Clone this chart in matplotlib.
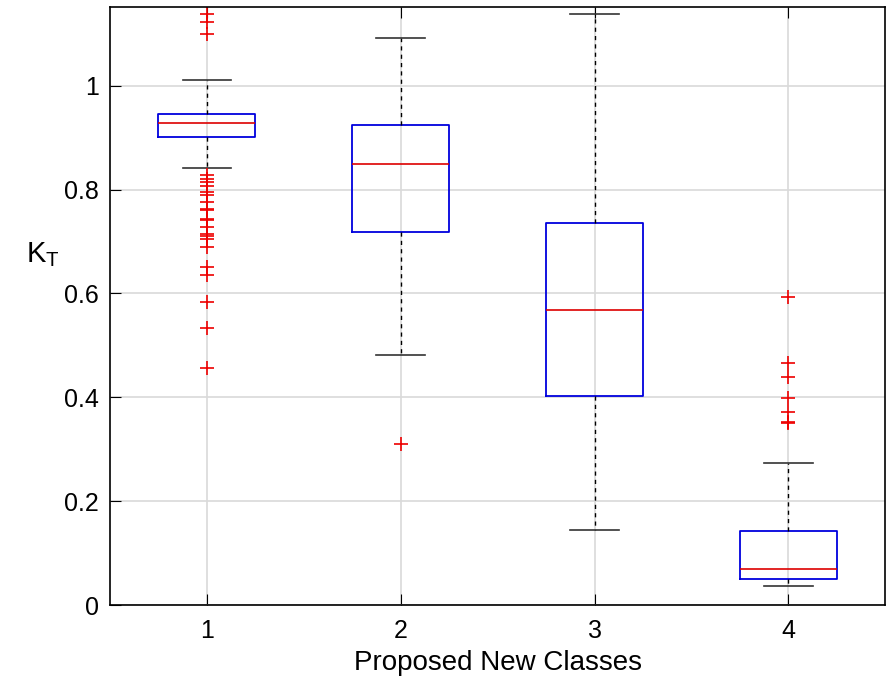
import matplotlib.pyplot as plt

plt.rcParams['font.family'] = ['Liberation Sans', 'DejaVu Sans']
plt.rcParams['mathtext.default'] = 'regular'

classes = [1, 2, 3, 4]
whislo = [0.842, 0.481, 0.1445, 0.037]
q1 = [0.902, 0.719, 0.402, 0.051]
med = [0.928, 0.850, 0.568, 0.069]
q3 = [0.946, 0.924, 0.736, 0.143]
whishi = [1.011, 1.092, 1.139, 0.274]
fliers = [
    [1.139, 1.123, 1.099,
     0.828, 0.821, 0.814, 0.807, 0.795, 0.789, 0.776, 0.763, 0.760, 0.744,
     0.742, 0.727, 0.714, 0.710, 0.705, 0.689, 0.651, 0.635, 0.583, 0.534,
     0.457],
    [0.311],
    [],
    [0.593, 0.466, 0.440, 0.399, 0.371, 0.353, 0.350],
]

stats = []
for i in range(len(classes)):
    stats.append(dict(med=med[i], q1=q1[i], q3=q3[i], whislo=whislo[i],
                      whishi=whishi[i], fliers=fliers[i], label=str(classes[i])))

fig = plt.figure(figsize=(8.87, 6.76), dpi=100)
ax = fig.add_axes([0.124, 0.105, 0.874, 0.885])
ax.grid(True, color='#d9d9d9', linewidth=1.2, zorder=0)
ax.set_axisbelow(True)

ax.bxp(stats, positions=classes, widths=0.5, capwidths=0.25,
       boxprops=dict(color='#0000dd', linewidth=1.3),
       medianprops=dict(color='#dd0000', linewidth=1.2),
       whiskerprops=dict(color='black', linestyle=(0, (3, 3)), linewidth=1),
       capprops=dict(color='#333333', linewidth=1.2),
       flierprops=dict(marker='+', markeredgecolor='#ee0000', markersize=10,
                       markeredgewidth=1.2, linestyle='none'))

ax.set_xlim(0.5, 4.5)
ax.set_ylim(0, 1.152)
ax.set_yticks([0, 0.2, 0.4, 0.6, 0.8, 1])
ax.set_yticklabels(['0', '0.2', '0.4', '0.6', '0.8', '1'])
ax.tick_params(direction='in', top=True, right=False, labelsize=18, length=8)
ax.tick_params(axis='x', pad=10)
ax.tick_params(axis='y', pad=8)
for s in ax.spines.values():
    s.set_linewidth(1.2)

ax.set_xlabel('Proposed New Classes', fontsize=20)
ax.xaxis.set_label_coords(0.5, -0.075)
ax.set_ylabel('K$_T$', fontsize=21, rotation=0, va='center', ha='center')
ax.yaxis.set_label_coords(-0.086, 0.585)

plt.savefig('out.png')
